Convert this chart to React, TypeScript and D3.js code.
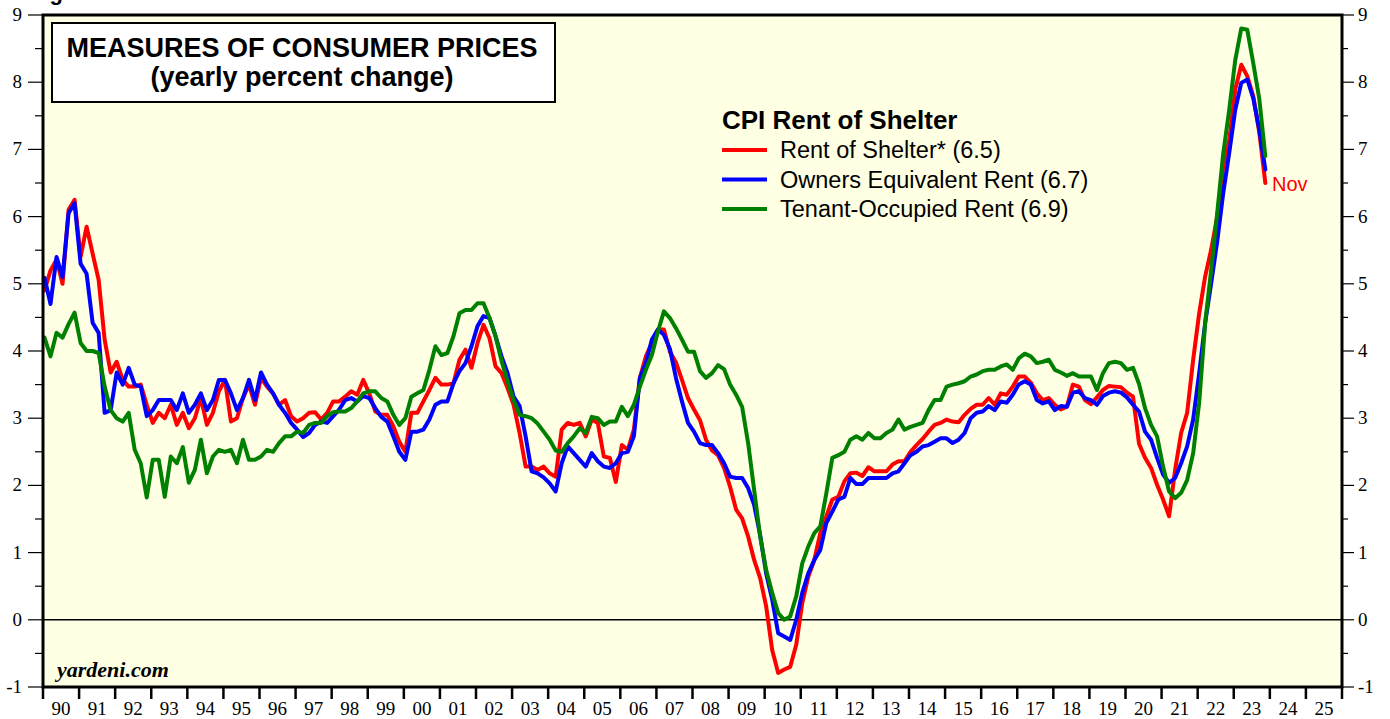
import React from 'react'
import * as d3 from 'd3'

// yearly percent change, one reading every 2 months from Jan 1990 to Nov 2023
const rentOfShelter = [
  4.9, 5.2, 5.36, 5.0, 6.1, 6.25, 5.4, 5.85, 5.45, 5.06, 4.17, 3.68,
  3.84, 3.57, 3.47, 3.47, 3.5, 3.2, 2.93, 3.08, 3.0, 3.2, 2.9, 3.08,
  2.85, 3.0, 3.3, 2.9, 3.08, 3.4, 3.57, 2.95, 3.0, 3.3, 3.5, 3.2,
  3.6, 3.47, 3.37, 3.2, 3.27, 3.03, 2.95, 3.0, 3.08, 3.09, 2.98, 3.08,
  3.25, 3.25, 3.32, 3.4, 3.35, 3.57, 3.37, 3.1, 3.05, 3.05, 2.88, 2.65,
  2.5, 3.08, 3.08, 3.25, 3.42, 3.6, 3.5, 3.5, 3.52, 3.87, 4.02, 3.75,
  4.12, 4.39, 4.19, 3.77, 3.67, 3.45, 3.2, 2.78, 2.28, 2.28, 2.23, 2.28,
  2.18, 2.13, 2.83, 2.93, 2.9, 2.93, 2.73, 2.98, 2.93, 2.43, 2.41, 2.05,
  2.6, 2.53, 2.83, 3.6, 3.92, 4.12, 4.32, 4.32, 3.99, 3.83, 3.57, 3.3,
  3.13, 2.97, 2.68, 2.52, 2.45, 2.26, 1.98, 1.64, 1.51, 1.24, 0.89, 0.62,
  0.2, -0.45, -0.79, -0.74, -0.7, -0.37, 0.25, 0.64, 0.89, 1.29, 1.54, 1.79,
  1.83, 2.06, 2.18, 2.19, 2.14, 2.27, 2.21, 2.21, 2.21, 2.31, 2.36, 2.36,
  2.5, 2.6, 2.69, 2.8, 2.9, 2.93, 2.98, 2.95, 2.94, 3.05, 3.14, 3.2,
  3.2, 3.3, 3.2, 3.37, 3.35, 3.47, 3.62, 3.62, 3.53, 3.37, 3.27, 3.3,
  3.2, 3.13, 3.17, 3.5, 3.47, 3.27, 3.21, 3.31, 3.42, 3.48, 3.47, 3.46,
  3.38, 3.32, 2.62, 2.41, 2.26, 2.01, 1.79, 1.54, 2.23, 2.78, 3.08, 3.87,
  4.56, 5.11, 5.51, 6.0, 6.75, 7.14, 7.89, 8.26, 8.09, 7.79, 7.25, 6.5,
]

const ownersEquivRent = [
  5.09, 4.7, 5.4, 5.1, 6.05, 6.2, 5.3, 5.15, 4.42, 4.27, 3.08, 3.12,
  3.68, 3.5, 3.75, 3.5, 3.47, 3.03, 3.12, 3.27, 3.27, 3.27, 3.12, 3.37,
  3.08, 3.2, 3.37, 3.12, 3.27, 3.57, 3.57, 3.37, 3.12, 3.3, 3.57, 3.27,
  3.68, 3.5, 3.37, 3.2, 3.08, 2.93, 2.83, 2.72, 2.78, 2.9, 2.95, 2.93,
  3.03, 3.13, 3.27, 3.3, 3.25, 3.33, 3.3, 3.15, 3.02, 2.95, 2.73, 2.5,
  2.38, 2.8, 2.8, 2.83, 2.98, 3.2, 3.25, 3.25, 3.52, 3.7, 3.82, 4.07,
  4.37, 4.52, 4.49, 4.22, 3.92, 3.67, 3.32, 3.18, 2.73, 2.21, 2.18, 2.12,
  2.03, 1.91, 2.33, 2.58, 2.48, 2.38, 2.28, 2.48, 2.36, 2.28, 2.26, 2.33,
  2.48, 2.5, 2.73, 3.6, 3.82, 4.17, 4.32, 4.24, 4.03, 3.6, 3.25, 2.93,
  2.8, 2.63, 2.6, 2.6, 2.48, 2.33, 2.13, 2.11, 2.11, 1.96, 1.71, 1.26,
  0.69, 0.3, -0.2, -0.25, -0.3, 0.0, 0.4, 0.69, 0.89, 1.04, 1.44, 1.61,
  1.79, 1.83, 2.11, 2.02, 2.02, 2.11, 2.11, 2.11, 2.11, 2.18, 2.21, 2.33,
  2.45, 2.5, 2.58, 2.6, 2.65, 2.7, 2.7, 2.63, 2.68, 2.78, 3.0, 3.08,
  3.1, 3.18, 3.12, 3.25, 3.23, 3.35, 3.5, 3.55, 3.5, 3.27, 3.22, 3.25,
  3.12, 3.18, 3.17, 3.38, 3.4, 3.3, 3.27, 3.2, 3.33, 3.38, 3.4, 3.38,
  3.31, 3.2, 3.1, 2.8, 2.68, 2.41, 2.16, 2.04, 2.11, 2.33, 2.58, 2.98,
  3.67, 4.42, 5.01, 5.63, 6.35, 6.95, 7.59, 7.99, 8.04, 7.76, 7.29, 6.7,
]

const tenantRent = [
  4.2, 3.92, 4.27, 4.2, 4.4, 4.57, 4.12, 4.0, 4.0, 3.97, 3.47, 3.12,
  3.0, 2.95, 3.08, 2.53, 2.33, 1.82, 2.38, 2.38, 1.83, 2.43, 2.33, 2.57,
  2.04, 2.23, 2.68, 2.18, 2.43, 2.53, 2.5, 2.53, 2.33, 2.68, 2.38, 2.38,
  2.43, 2.53, 2.5, 2.63, 2.73, 2.73, 2.8, 2.78, 2.9, 2.93, 2.93, 3.03,
  3.09, 3.1, 3.1, 3.15, 3.25, 3.37, 3.4, 3.4, 3.3, 3.25, 3.05, 2.9,
  3.0, 3.32, 3.37, 3.42, 3.72, 4.07, 3.94, 3.97, 4.22, 4.56, 4.61, 4.61,
  4.71, 4.71, 4.49, 4.22, 3.85, 3.55, 3.27, 3.05, 3.03, 3.0, 2.92, 2.8,
  2.68, 2.52, 2.5, 2.63, 2.73, 2.85, 2.78, 3.02, 3.0, 2.9, 2.95, 2.95,
  3.17, 3.03, 3.2, 3.47, 3.72, 3.94, 4.29, 4.59, 4.49, 4.34, 4.17, 3.99,
  3.99, 3.7, 3.6, 3.67, 3.79, 3.73, 3.5, 3.35, 3.17, 2.63, 1.93, 1.24,
  0.74, 0.4, 0.1, 0.0, 0.05, 0.35, 0.84, 1.09, 1.29, 1.39, 1.88, 2.41,
  2.45, 2.5, 2.68, 2.73, 2.68, 2.78, 2.7, 2.7, 2.78, 2.83, 2.98, 2.83,
  2.87, 2.9, 2.93, 3.12, 3.27, 3.27, 3.47, 3.5, 3.52, 3.55, 3.62, 3.65,
  3.7, 3.72, 3.72, 3.77, 3.8, 3.72, 3.89, 3.96, 3.92, 3.82, 3.84, 3.87,
  3.72, 3.68, 3.63, 3.67, 3.62, 3.62, 3.62, 3.42, 3.67, 3.82, 3.84, 3.82,
  3.72, 3.75, 3.51, 3.15, 2.9, 2.73, 2.28, 1.91, 1.81, 1.89, 2.08, 2.48,
  3.23, 4.42, 5.21, 6.05, 6.94, 7.59, 8.33, 8.8, 8.78, 8.28, 7.75, 6.9,
]

const yTicks = [-1, 0, 1, 2, 3, 4, 5, 6, 7, 8, 9]
const yearLabels = [
  '90', '91', '92', '93', '94', '95', '96', '97', '98', '99', '00', '01',
  '02', '03', '04', '05', '06', '07', '08', '09', '10', '11', '12', '13',
  '14', '15', '16', '17', '18', '19', '20', '21', '22', '23', '24', '25',
]

const series = [
  { name: 'Rent of Shelter* (6.5)', color: '#ff0000', values: rentOfShelter },
  { name: 'Owners Equivalent Rent (6.7)', color: '#0000ff', values: ownersEquivRent },
  { name: 'Tenant-Occupied Rent (6.9)', color: '#008000', values: tenantRent },
]

const W = 1390, H = 719
const left = 43, right = 1342, top = 15, bottom = 687
const sans = '"Liberation Sans", Arial, sans-serif'
const serif = '"Liberation Serif", "Times New Roman", serif'

export default function App() {
  const x = d3.scaleLinear().domain([1990, 2026]).range([left, right])
  const y = d3.scaleLinear().domain([-1, 9]).range([bottom, top])

  // every value is one 2-month step, placed mid month
  const line = d3.line<number>()
    .x((d, i) => x(1990 + (i * 2 + 0.5) / 12))
    .y(d => y(d))

  const halfTicks = d3.range(-0.5, 9, 1)

  return (
    <svg width={W} height={H} style={{ position: 'absolute', left: 0, top: 0, background: '#fff' }}>
      <text x={30} y={0} fontFamily={sans} fontWeight="bold" fontSize={22}>Figure 1.</text>

      <rect x={left} y={top} width={right - left} height={bottom - top} fill="#ffffe3" />

      {/* zero line */}
      <line x1={left} x2={right} y1={y(0)} y2={y(0)} stroke="#000" strokeWidth={1.5} />

      {/* title box */}
      <rect x={52} y={23} width={503} height={79} fill="#fff" stroke="#000" strokeWidth={2} />
      <text x={302} y={57} textAnchor="middle" fontFamily={sans} fontWeight="bold" fontSize={27}>
        MEASURES OF CONSUMER PRICES
      </text>
      <text x={302} y={86} textAnchor="middle" fontFamily={sans} fontWeight="bold" fontSize={27}>
        (yearly percent change)
      </text>

      {/* legend */}
      <text x={722} y={129} fontFamily={sans} fontWeight="bold" fontSize={26}>CPI Rent of Shelter</text>
      {series.map((s, i) => (
        <g key={s.name}>
          <line x1={722} x2={767} y1={150 + i * 29.5} y2={150 + i * 29.5} stroke={s.color} strokeWidth={4} />
          <text x={780} y={158 + i * 29.5} fontFamily={sans} fontSize={23.5}>{s.name}</text>
        </g>
      ))}

      {series.map(s => (
        <path key={s.color} d={line(s.values) || ''} fill="none" stroke={s.color}
          strokeWidth={4} strokeLinejoin="round" strokeLinecap="round" />
      ))}

      <text x={1272} y={191} fill="#ff0000" fontFamily={sans} fontSize={20}>Nov</text>
      <text x={57} y={677} fontFamily={serif} fontWeight="bold" fontStyle="italic" fontSize={22}>yardeni.com</text>

      {/* frame */}
      <rect x={left} y={top} width={right - left} height={bottom - top} fill="none" stroke="#000" strokeWidth={3} />

      {/* y axes */}
      {yTicks.map(t => (
        <g key={t}>
          <line x1={28} x2={left} y1={y(t)} y2={y(t)} stroke="#000" strokeWidth={1.2} />
          <line x1={right} x2={1354} y1={y(t)} y2={y(t)} stroke="#000" strokeWidth={1.2} />
          <text x={22} y={y(t) + 6} textAnchor="end" fontFamily={serif} fontSize={19}>{t}</text>
          <text x={1358} y={y(t) + 6} fontFamily={serif} fontSize={19}>{t}</text>
        </g>
      ))}
      {halfTicks.map(t => (
        <g key={t}>
          <line x1={35} x2={left} y1={y(t)} y2={y(t)} stroke="#000" strokeWidth={1.2} />
          <line x1={right} x2={1348} y1={y(t)} y2={y(t)} stroke="#000" strokeWidth={1.2} />
        </g>
      ))}

      {/* x axis */}
      {d3.range(1990, 2027).map(yr => (
        <line key={yr} x1={x(yr)} x2={x(yr)} y1={bottom} y2={bottom + 12} stroke="#000" strokeWidth={2.5} />
      ))}
      {yearLabels.map((lab, i) => (
        <text key={lab} x={x(1990 + i + 0.5)} y={715} textAnchor="middle" fontFamily={serif} fontSize={19}>{lab}</text>
      ))}
    </svg>
  )
}
